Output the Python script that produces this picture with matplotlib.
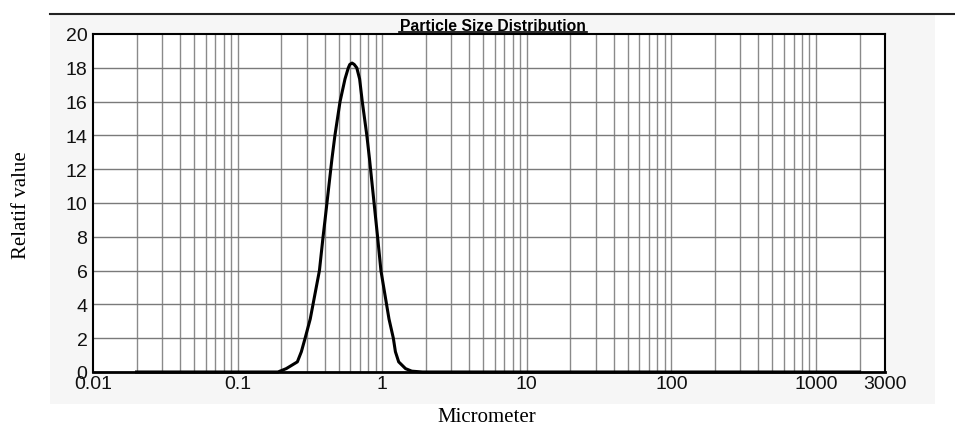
import matplotlib
matplotlib.use("Agg")
import matplotlib.pyplot as plt
from matplotlib.lines import Line2D
from matplotlib.patches import Rectangle

# particle size (micrometer) and relative value
size_um = [0.02, 0.1, 0.19, 0.217, 0.259, 0.276, 0.293, 0.318, 0.368, 0.390,
           0.403, 0.449, 0.471, 0.511, 0.553, 0.583, 0.597, 0.619, 0.640,
           0.667, 0.698, 0.728, 0.783, 0.817, 0.902, 0.929, 0.980, 1.114,
           1.194, 1.234, 1.30, 1.45, 1.6, 1.9, 10, 100, 1000, 2000]
rel_value = [0, 0, 0.0, 0.2, 0.6, 1.2, 2.0, 3.14, 6.0, 8.0,
             9.05, 12.6, 14.0, 16.0, 17.34, 18.0, 18.2, 18.28, 18.2,
             18.0, 17.34, 16.0, 14.0, 12.6, 9.05, 8.0, 6.0, 3.14,
             2.0, 1.2, 0.6, 0.2, 0.05, 0.0, 0, 0, 0, 0]

x_ticks = [0.01, 0.1, 1, 10, 100, 1000, 3000]
x_tick_labels = ['0.01', '0.1', '1', '10', '100', '1000', '3000']
y_ticks = list(range(0, 21, 2))

fig = plt.figure(figsize=(9.55, 4.27), dpi=100)
fig.patch.set_facecolor('white')

# faint scanned-paper area and the frame line above the chart
fig.add_artist(Rectangle((50 / 955, 22 / 427), 885 / 955, 390 / 427,
                         transform=fig.transFigure, facecolor='#f6f6f6',
                         edgecolor='none', zorder=0))
fig.add_artist(Line2D([50 / 955, 1.0], [1 - 15 / 427, 1 - 15 / 427],
                      transform=fig.transFigure, color='#222222', lw=1.5))

ax = fig.add_axes([93 / 955, 54 / 427, 792 / 955, 338 / 427])
ax.set_facecolor('white')
ax.plot(size_um, rel_value, color='black', lw=2.2, clip_on=False, zorder=3,
        solid_joinstyle='round')

ax.set_xscale('log')
ax.set_xlim(0.01, 3000)
ax.set_ylim(0, 20)
ax.set_xticks(x_ticks)
ax.set_xticklabels(x_tick_labels)
ax.set_xticks([], minor=True)
ax.set_yticks(y_ticks)

# grid lines: every 1..9 per decade, and every 2 units vertically
for dec in [0.01, 0.1, 1, 10, 100, 1000]:
    for m in range(1, 10):
        v = dec * m
        if 0.01 < v < 3000:
            ax.axvline(v, color='#8a8a8a', lw=1.0, zorder=1)
for y in y_ticks[1:-1]:
    ax.axhline(y, color='#7a7a7a', lw=1.0, zorder=1)

ax.tick_params(length=0, labelsize=14, pad=4,
               labelfontfamily='Liberation Sans', colors='#111111')
ax.tick_params(axis='x', pad=2)
for s in ax.spines.values():
    s.set_color('black')
    s.set_linewidth(1.5)
ax.spines['bottom'].set_linewidth(2.0)

fig.text(493 / 955, 1 - 31 / 427, 'Particle Size Distribution',
         ha='center', va='baseline', fontsize=11.3, fontweight='bold',
         family='Liberation Sans')
fig.add_artist(Line2D([399 / 955, 587 / 955], [1 - 33 / 427, 1 - 33 / 427],
                      transform=fig.transFigure, color='black', lw=1.2))

fig.text(22 / 955, 1 - 205 / 427, 'Relatif value', rotation=90,
         ha='center', va='center', fontsize=15, family='Liberation Serif')
fig.text(487 / 955, 1 - 418 / 427, 'Micrometer',
         ha='center', va='center', fontsize=15, family='Liberation Serif')

fig.savefig('out.png', dpi=100)
